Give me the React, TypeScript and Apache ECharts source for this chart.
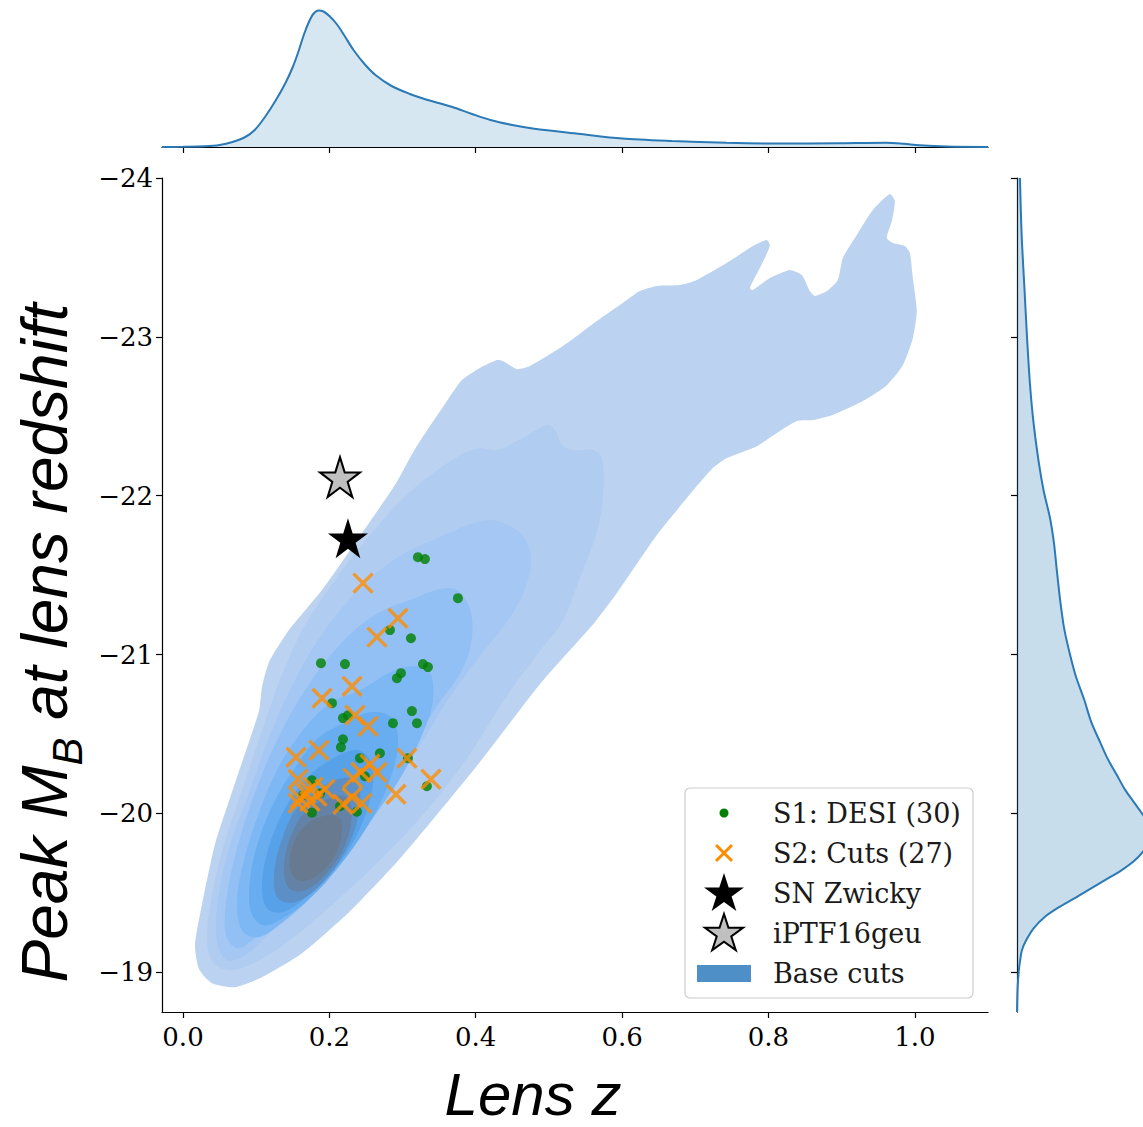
import React, { useEffect, useRef } from 'react';
import * as echarts from 'echarts';

// ---------- axes ----------
const xTicks = [0, 0.2, 0.4, 0.6, 0.8, 1.0];
const yTicks = [-24, -23, -22, -21, -20, -19];
const xRange = [-0.0287, 1.1];
const yRange = [-24, -18.75];

// ---------- scatter samples (Lens z, Peak M_B) ----------
const s1Desi = [
  [0.321, -21.613], [0.3306, -21.601], [0.3757, -21.355], [0.2828, -21.154], [0.3115, -21.103],
  [0.1885, -20.946], [0.2213, -20.94], [0.3279, -20.94], [0.3347, -20.921], [0.2978, -20.883],
  [0.2923, -20.851], [0.2036, -20.694], [0.3128, -20.644], [0.2186, -20.6], [0.2254, -20.618],
  [0.2869, -20.568], [0.3197, -20.568], [0.2186, -20.467], [0.2158, -20.417], [0.2691, -20.379],
  [0.2418, -20.348], [0.3074, -20.348], [0.1762, -20.209], [0.3333, -20.171], [0.1762, -20.005],
  [0.2377, -20.011], [0.1639, -20.115], [0.1872, -20.126], [0.2486, -20.234], [0.2145, -20.045],
];
const s2Cuts = [
  [0.2459, -21.45], [0.2937, -21.229], [0.265, -21.11], [0.2309, -20.801], [0.1899, -20.725],
  [0.235, -20.618], [0.2527, -20.549], [0.1858, -20.398], [0.1544, -20.354], [0.306, -20.348],
  [0.2555, -20.31], [0.265, -20.259], [0.2432, -20.259], [0.2322, -20.222], [0.1571, -20.215],
  [0.3388, -20.215], [0.1776, -20.165], [0.194, -20.152], [0.168, -20.127], [0.1831, -20.108],
  [0.1598, -20.096], [0.291, -20.121], [0.1571, -20.064], [0.2186, -20.058], [0.2445, -20.064],
  [0.2309, -20.102], [0.1735, -20.077],
];
const snZwicky = [[0.2254, -21.733]];
const iptf16geu = [[0.2145, -22.117]];

// ---------- marginal KDEs ----------
const topKde = [
  [-0.0287, 0], [0.0, 0.2], [0.03, 0.7], [0.05, 2], [0.0675, 5], [0.085, 10], [0.098, 17], [0.112, 30],
  [0.127, 47], [0.14, 64], [0.15, 80], [0.158, 96], [0.165, 112], [0.172, 125], [0.178, 133],
  [0.185, 136.5], [0.192, 135.5], [0.2, 131], [0.21, 123], [0.22, 112], [0.233, 97], [0.248, 83],
  [0.263, 72], [0.285, 61], [0.31, 53], [0.33, 48], [0.368, 40], [0.395, 33], [0.42, 27], [0.45, 22],
  [0.48, 18.3], [0.54, 13.3], [0.6, 8.5], [0.668, 6], [0.743, 4.2], [0.818, 3.4], [0.893, 3.7],
  [0.961, 4.3], [0.985, 3.2], [1.006, 1.7], [1.044, 0.4], [1.1, 0],
];
const rightKde = [
  [-24.0, 3.0], [-23.8, 3.8], [-23.59, 5], [-23.3, 7.5], [-23.0, 10], [-22.7, 13], [-22.45, 16.7],
  [-22.2, 22], [-22.03, 26.7], [-21.86, 33], [-21.7, 37], [-21.52, 40], [-21.35, 43], [-21.17, 47],
  [-21.0, 53], [-20.86, 59], [-20.72, 67], [-20.58, 74], [-20.45, 83], [-20.34, 91], [-20.24, 100],
  [-20.15, 108], [-20.07, 117], [-20.0, 125], [-19.94, 131], [-19.88, 134], [-19.82, 132],
  [-19.76, 126], [-19.7, 117], [-19.64, 104], [-19.58, 88], [-19.52, 72], [-19.46, 56], [-19.41, 42],
  [-19.35, 28], [-19.28, 17], [-19.2, 9], [-19.14, 5], [-19.07, 3], [-19.0, 1.7], [-18.9, 0.6],
  [-18.75, 0],
];

// ---------- filled KDE contour levels (Lens z, Peak M_B), outer -> inner ----------
const contourL1 = [
  [0.3811, -22.728], [0.4057, -22.804], [0.429, -22.854], [0.4372, -22.848], [0.4563, -22.797],
  [0.474, -22.816], [0.5191, -22.942], [0.5656, -23.1], [0.597, -23.2], [0.6243, -23.288],
  [0.6475, -23.32], [0.679, -23.326], [0.7022, -23.358], [0.7473, -23.477], [0.7787, -23.572],
  [0.7978, -23.61], [0.8019, -23.572], [0.7882, -23.433], [0.7746, -23.307], [0.7787, -23.295],
  [0.8019, -23.37], [0.8292, -23.421], [0.8456, -23.389], [0.8565, -23.288], [0.8634, -23.257],
  [0.8798, -23.288], [0.8948, -23.358], [0.9016, -23.496], [0.9207, -23.641], [0.9426, -23.798],
  [0.9658, -23.899], [0.9727, -23.855], [0.9686, -23.729], [0.9617, -23.622], [0.9699, -23.591],
  [0.9863, -23.572], [0.9932, -23.528], [0.9973, -23.37], [1.0027, -23.162], [0.9973, -22.992],
  [0.9836, -22.822], [0.9617, -22.696], [0.929, -22.596], [0.888, -22.508], [0.8607, -22.476],
  [0.8388, -22.47], [0.8156, -22.407], [0.7841, -22.312], [0.7432, -22.237], [0.724, -22.174],
  [0.6885, -21.985], [0.6475, -21.752], [0.5929, -21.387], [0.5628, -21.204], [0.4945, -20.851],
  [0.4631, -20.669], [0.4044, -20.316], [0.3361, -19.932], [0.2896, -19.68], [0.2268, -19.378],
  [0.1626, -19.12], [0.1079, -18.969], [0.071, -18.906], [0.0396, -18.931], [0.0219, -19.019],
  [0.0164, -19.17], [0.026, -19.428], [0.0437, -19.806], [0.071, -20.19], [0.1038, -20.644],
  [0.1079, -20.795], [0.1175, -20.952], [0.1448, -21.154], [0.1899, -21.406], [0.2445, -21.764],
  [0.2896, -22.067], [0.3169, -22.293], [0.3579, -22.577],
];
const contourL2 = [
  [0.3743, -22.243], [0.4057, -22.3], [0.429, -22.287], [0.4645, -22.363], [0.4973, -22.445],
  [0.5082, -22.413], [0.5178, -22.319], [0.5328, -22.287], [0.5601, -22.287], [0.5724, -22.237],
  [0.5738, -22.004], [0.5656, -21.777], [0.5423, -21.481], [0.5178, -21.204], [0.4918, -21.047],
  [0.4508, -20.795], [0.4153, -20.543], [0.3784, -20.285], [0.321, -19.957], [0.2691, -19.705],
  [0.2076, -19.441], [0.1462, -19.202], [0.0984, -19.063], [0.0642, -19.013], [0.041, -19.063],
  [0.0328, -19.202], [0.0383, -19.453], [0.0546, -19.781], [0.0806, -20.146], [0.112, -20.574],
  [0.1366, -20.889], [0.1667, -21.185], [0.2076, -21.469], [0.2555, -21.752], [0.3101, -22.023],
];
const contourL3 = [
  [0.3415, -21.72], [0.4153, -21.846], [0.4563, -21.783], [0.474, -21.657], [0.4713, -21.469],
  [0.4508, -21.261], [0.4153, -21.047], [0.388, -20.883], [0.3552, -20.669], [0.3279, -20.461],
  [0.2964, -20.241], [0.2555, -19.989], [0.2145, -19.737], [0.1667, -19.485], [0.1188, -19.252],
  [0.0847, -19.107], [0.0601, -19.076], [0.0464, -19.189], [0.0478, -19.453], [0.0642, -19.8],
  [0.0915, -20.146], [0.1188, -20.493], [0.153, -20.839], [0.194, -21.154], [0.2486, -21.45],
  [0.2964, -21.62],
];
const contourL4 = [
  [0.3101, -21.343], [0.3675, -21.418], [0.3907, -21.305], [0.3948, -21.103], [0.3811, -20.902],
  [0.3497, -20.694], [0.3169, -20.461], [0.276, -20.178], [0.235, -19.926], [0.1872, -19.655],
  [0.1393, -19.403], [0.1025, -19.233], [0.0751, -19.151], [0.0587, -19.233], [0.0601, -19.485],
  [0.0751, -19.8], [0.0997, -20.146], [0.1298, -20.474], [0.1667, -20.776], [0.2076, -21.028],
  [0.2555, -21.229],
];
const contourL5 = [
  [0.2418, -20.776], [0.2964, -20.914], [0.3347, -20.902], [0.3415, -20.713], [0.3265, -20.493],
  [0.2992, -20.241], [0.2623, -19.989], [0.2213, -19.724], [0.1776, -19.485], [0.1366, -19.315],
  [0.1025, -19.22], [0.0806, -19.265], [0.0738, -19.453], [0.0833, -19.705], [0.1025, -19.989],
  [0.1298, -20.285], [0.1639, -20.524], [0.2008, -20.694],
];
const contourL6 = [
  [0.2145, -20.555], [0.2555, -20.637], [0.2855, -20.6], [0.2937, -20.43], [0.28, -20.178],
  [0.2527, -19.926], [0.2145, -19.674], [0.1735, -19.466], [0.1366, -19.34], [0.1093, -19.296],
  [0.0929, -19.378], [0.0915, -19.579], [0.1025, -19.819], [0.1257, -20.083], [0.1571, -20.316],
  [0.1844, -20.474],
];
const contourL7 = [
  [0.2008, -20.335], [0.2391, -20.398], [0.2582, -20.304], [0.2555, -20.083], [0.235, -19.844],
  [0.2036, -19.63], [0.1667, -19.466], [0.1352, -19.378], [0.1148, -19.403], [0.1079, -19.548],
  [0.1161, -19.768], [0.1366, -20.008], [0.1667, -20.209],
];
const contourL8 = [
  [0.194, -20.178], [0.2281, -20.222], [0.2418, -20.134], [0.2363, -19.926], [0.2145, -19.705],
  [0.1831, -19.529], [0.153, -19.441], [0.1298, -19.466], [0.1243, -19.611], [0.1339, -19.819],
  [0.1557, -20.033],
];
const contourL9 = [
  [0.194, -20.083], [0.2213, -20.108], [0.2309, -20.008], [0.2213, -19.8], [0.1967, -19.623],
  [0.1667, -19.516], [0.1448, -19.529], [0.138, -19.655], [0.1462, -19.844], [0.1667, -20.008],
];
const contourL10 = [
  [0.1981, -19.989], [0.2145, -19.97], [0.2158, -19.844], [0.2036, -19.705], [0.1803, -19.598],
  [0.1571, -19.579], [0.1462, -19.668], [0.1516, -19.819], [0.1708, -19.938],
];
const contourLevels = [
  contourL1, contourL2, contourL3, contourL4, contourL5,
  contourL6, contourL7, contourL8, contourL9, contourL10,
];
const contourColors = [
  '#bbd2f0', '#b1ccf1', '#a4c7f3', '#92c0f4', '#7db7f4',
  '#67adf0', '#56a1e7', '#5b8fc6', '#6482a5', '#677a90',
];

const legendItems = ['S1: DESI (30)', 'S2: Cuts (27)', 'SN Zwicky', 'iPTF16geu', 'Base cuts'];

const STAR = 'path://M50,0L61.2,34.5L97.6,34.5L68.2,55.9L79.4,90.5L50,69.1L20.6,90.5L31.8,55.9L2.4,34.5L38.8,34.5Z';
const XMARK = 'path://M0,0L20,20M20,0L0,20';

function starPoints(cx: number, cy: number, R: number) {
  const pts: number[][] = [];
  for (let i = 0; i < 10; i++) {
    const a = -Math.PI / 2 + (i * Math.PI) / 5;
    const r = i % 2 === 0 ? R : R * 0.382;
    pts.push([cx + r * Math.cos(a), cy + r * Math.sin(a)]);
  }
  return pts;
}

const fmtY = (v: number) => (v < 0 ? '\u2212' + Math.abs(v) : String(v));

export default function App() {
  const ref = useRef<HTMLDivElement>(null);

  useEffect(() => {
    if (!ref.current) return;
    const chart = echarts.init(ref.current, undefined, { renderer: 'svg' });

    const tickFont = { fontFamily: 'DejaVu Serif', fontSize: 26, color: '#000' };
    const axisLine = { show: true, onZero: false, lineStyle: { color: '#000', width: 1.2 } };
    const tickStyle = { color: '#000', width: 1.2 };

    const MAIN = { left: 162, top: 178, width: 826, height: 834 };
    const TOP = { left: 162, top: 10, width: 826, height: 137 };
    const RIGHT = { left: 1017, top: 178, width: 126, height: 834 };

    const lx = 685, ly = 788;
    const rowY = [813, 853, 893, 933, 973];

    const option: any = {
      animation: false,
      grid: [MAIN, TOP, RIGHT],
      xAxis: [
        {
          gridIndex: 0, type: 'value', min: xRange[0], max: xRange[1],
          axisLine, splitLine: { show: false },
          axisTick: { show: true, inside: false, length: 6, customValues: xTicks, lineStyle: tickStyle },
          axisLabel: { ...tickFont, margin: 12, customValues: xTicks, formatter: (v: number) => v.toFixed(1) },
        },
        {
          gridIndex: 1, type: 'value', min: xRange[0], max: xRange[1],
          axisLine, splitLine: { show: false },
          axisTick: { show: true, inside: false, length: 6, customValues: xTicks, lineStyle: tickStyle },
          axisLabel: { show: false },
        },
        { gridIndex: 2, type: 'value', min: 0, max: 126, show: false },
      ],
      yAxis: [
        {
          gridIndex: 0, type: 'value', inverse: true, min: yRange[0], max: yRange[1],
          axisLine, splitLine: { show: false },
          axisTick: { show: true, inside: false, length: 6, customValues: yTicks, lineStyle: tickStyle },
          axisLabel: { ...tickFont, margin: 9, customValues: yTicks, formatter: fmtY },
        },
        { gridIndex: 1, type: 'value', min: 0, max: 137, show: false },
        {
          gridIndex: 2, type: 'value', inverse: true, min: yRange[0], max: yRange[1],
          axisLine, splitLine: { show: false },
          axisTick: { show: true, inside: false, length: 6, customValues: yTicks, lineStyle: tickStyle },
          axisLabel: { show: false },
        },
      ],
      series: [
        {
          type: 'custom', name: 'Base cuts', xAxisIndex: 0, yAxisIndex: 0,
          data: contourLevels.map((poly, i) => [poly[0][0], poly[0][1], i]),
          encode: { x: 0, y: 1 },
          renderItem: (params: any, api: any) => {
            const i = api.value(2);
            const pts = contourLevels[i].map((p) => api.coord(p));
            return {
              type: 'polygon',
              shape: { points: pts, smooth: i === 0 ? 0.2 : 0.35 },
              style: { fill: contourColors[i] },
            };
          },
          silent: true, z: 1,
        },
        {
          type: 'scatter', name: 'S1: DESI (30)', xAxisIndex: 0, yAxisIndex: 0,
          data: s1Desi, symbol: 'circle', symbolSize: 10,
          itemStyle: { color: '#008000' }, z: 3,
        },
        {
          type: 'scatter', name: 'S2: Cuts (27)', xAxisIndex: 0, yAxisIndex: 0,
          data: s2Cuts, symbol: XMARK, symbolSize: 19,
          itemStyle: { color: 'rgba(0,0,0,0)', borderColor: '#ff8c00', borderWidth: 3.4 }, z: 4,
        },
        {
          type: 'scatter', name: 'SN Zwicky', xAxisIndex: 0, yAxisIndex: 0,
          data: snZwicky, symbol: STAR, symbolSize: 40,
          itemStyle: { color: '#000', opacity: 1 }, z: 5,
        },
        {
          type: 'scatter', name: 'iPTF16geu', xAxisIndex: 0, yAxisIndex: 0,
          data: iptf16geu, symbol: STAR, symbolSize: 40,
          itemStyle: { color: '#c0c0c0', borderColor: '#000', borderWidth: 2, opacity: 1 }, z: 5,
        },
        {
          type: 'line', xAxisIndex: 1, yAxisIndex: 1, data: topKde,
          showSymbol: false, smooth: 0.3,
          lineStyle: { color: '#2b79b5', width: 2 },
          areaStyle: { color: 'rgba(31,119,180,0.25)' },
          silent: true,
        },
        {
          type: 'custom', xAxisIndex: 2, yAxisIndex: 2, clip: true,
          data: [[0, yRange[0]]], encode: { x: 0, y: 1 },
          renderItem: (params: any, api: any) => {
            const pts = rightKde.map(([m, d]) => api.coord([d, m]));
            pts.push(api.coord([0, rightKde[rightKde.length - 1][0]]));
            pts.push(api.coord([0, rightKde[0][0]]));
            const cs = params.coordSys;
            return {
              type: 'polygon',
              shape: { points: pts },
              style: { fill: 'rgba(31,119,180,0.25)' },
              clipPath: { type: 'rect', shape: { x: cs.x, y: cs.y, width: cs.width, height: cs.height } },
            };
          },
          silent: true,
        },
        {
          type: 'line', xAxisIndex: 2, yAxisIndex: 2,
          data: rightKde.map(([m, d]) => [d, m]),
          showSymbol: false, smooth: 0.3,
          lineStyle: { color: '#2b79b5', width: 2 },
          silent: true,
        },
      ],
      graphic: [
        {
          type: 'rect', z: 100,
          shape: { x: lx, y: ly, width: 288, height: 210, r: 5 },
          style: { fill: 'rgba(255,255,255,0.85)', stroke: '#cccccc', lineWidth: 1.2 },
        },
        { type: 'circle', z: 101, shape: { cx: 724, cy: rowY[0], r: 4.5 }, style: { fill: '#008000' } },
        { type: 'line', z: 101, shape: { x1: 716, y1: rowY[1] - 8, x2: 732, y2: rowY[1] + 8 }, style: { stroke: '#ff8c00', lineWidth: 3 } },
        { type: 'line', z: 101, shape: { x1: 732, y1: rowY[1] - 8, x2: 716, y2: rowY[1] + 8 }, style: { stroke: '#ff8c00', lineWidth: 3 } },
        { type: 'polygon', z: 101, shape: { points: starPoints(724, rowY[2] + 1, 21) }, style: { fill: '#000' } },
        { type: 'polygon', z: 101, shape: { points: starPoints(724, rowY[3] + 1, 20) }, style: { fill: '#c0c0c0', stroke: '#000', lineWidth: 2 } },
        { type: 'rect', z: 101, shape: { x: 697, y: rowY[4] - 8, width: 54, height: 17 }, style: { fill: '#4e8fc8' } },
        ...legendItems.map((t, i) => ({
          type: 'text', z: 101, x: 773, y: rowY[i],
          style: { text: t, fontFamily: 'DejaVu Serif', fontSize: 27, fill: '#1a1a1a', align: 'left', verticalAlign: 'middle' },
        })),
        {
          type: 'text', x: 533, y: 1124,
          style: {
            text: 'Lens z', fontFamily: 'Liberation Sans', fontStyle: 'italic', fontSize: 60,
            fill: '#000', align: 'center', verticalAlign: 'bottom',
          },
        },
        {
          type: 'text', x: 45, y: 643, rotation: Math.PI / 2,
          style: {
            text: '{m|Peak M}{s|B}{m| at lens redshift}',
            align: 'center', verticalAlign: 'middle', fill: '#000',
            rich: {
              m: { fontFamily: 'Liberation Sans', fontStyle: 'italic', fontSize: 64, lineHeight: 86, fill: '#000' },
              s: { fontFamily: 'Liberation Sans', fontStyle: 'italic', fontSize: 42, lineHeight: 54, verticalAlign: 'bottom', fill: '#000' },
            },
          },
        },
      ],
    };

    chart.setOption(option);
    return () => chart.dispose();
  }, []);

  return (
    <div
      ref={ref}
      style={{ position: 'fixed', left: 0, top: 0, width: 1143, height: 1127, background: '#fff' }}
    />
  );
}
